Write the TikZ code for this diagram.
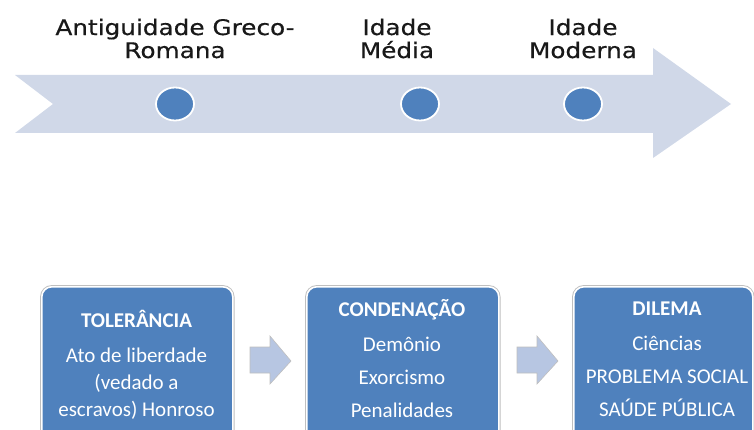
\documentclass[tikz,border=0pt]{standalone}
\usepackage{fontspec}
\newfontfamily\topfont[FakeStretch=1.15, FakeBold=0.5]{DejaVu Sans}
\newfontfamily\boxfont{Carlito}
\usetikzlibrary{positioning,shapes.geometric}

\definecolor{bandfill}{HTML}{D0D8E8}
\definecolor{dotblue}{HTML}{4F81BD}
\definecolor{stepblue}{HTML}{B7C6E2}

\tikzset{
  era/.style={align=center, text=black!90, inner sep=0pt,
    font=\topfont\fontsize{21.5}{23}\selectfont},
  dot/.style={ellipse, fill=dotblue, draw=white, line width=1.8pt,
    minimum width=38pt, minimum height=33pt, inner sep=0pt},
  phase/.style={rounded corners=10pt, fill=dotblue, draw=white, line width=1.6pt,
    preaction={draw=black!25, line width=3.4pt},
    minimum width=#1, minimum height=175pt, anchor=north west, inner sep=0pt},
  phasetext/.style={align=center, text=white, inner sep=0pt,
    font=\boxfont\fontsize{21}{27}\selectfont},
}

\begin{document}
\begin{tikzpicture}[x=1pt, y=-1pt]
\useasboundingbox (0,0) rectangle (754,430);
\clip (0,0) rectangle (754,430);

% time line
\fill[bandfill] (15,75) -- (653,75) -- (653,48) -- (731,104) -- (653,158)
  -- (653,133) -- (15,133) -- (53,104) -- cycle;

\node[dot] (antiga) at (175,104) {};
\node[dot] (media) at (420,104) {};
\node[dot] (moderna) at (583,104) {};

\node[era] (lbantiga) at (175,38.5) {Antiguidade Greco-\\Romana};
\node[era] (lbmedia) at (397,38.5) {Idade\\Média};
\node[era] (lbmoderna) at (583,38.5) {Idade\\Moderna};

% phases
\node[phase=191pt] (tolerancia) at (41,286) {};
\node[phase=192pt] (condenacao) at (306,286) {};
\node[phase=179pt] (dilema) at (573,286) {};

\node[phasetext] (txtol) at (136.5,364.5)
  {\textbf{TOLERÂNCIA}\\[8pt]Ato de liberdade\\(vedado a\\escravos) Honroso};
\node[phasetext] (txcond) at (402,359)
  {\textbf{CONDENAÇÃO}\\[8pt]Demônio\\[6pt]Exorcismo\\[6pt]Penalidades};
\node[phasetext] (txdil) at (667,359)
  {\textbf{DILEMA}\\[8pt]Ciências\\[6pt]PROBLEMA SOCIAL\\[6pt]SAÚDE PÚBLICA};

% arrows between phases
\foreach \dx in {0,267}
  \draw[fill=stepblue, draw=black!25, line width=0.6pt]
    (250+\dx,347) -- (270+\dx,347) -- (270+\dx,336) -- (291+\dx,361)
    -- (270+\dx,384) -- (270+\dx,373) -- (250+\dx,373) -- cycle;

\end{tikzpicture}
\end{document}
